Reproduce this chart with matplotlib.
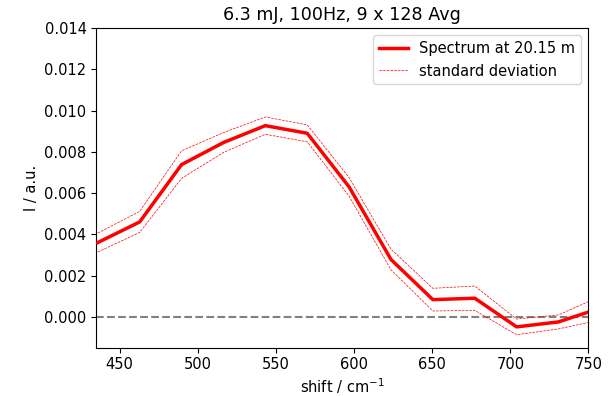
import matplotlib
matplotlib.use("Agg")
import matplotlib.pyplot as plt
import numpy as np

shift = [436.0, 462.8, 489.6, 516.4, 543.2, 570.0, 596.8, 623.6, 650.4, 677.2, 704.0, 730.8, 757.6]
spectrum = [0.00360, 0.00460, 0.00738, 0.00845, 0.00927, 0.00890, 0.00630, 0.00278, 0.00083, 0.00090, -0.00049, -0.00025, 0.00042]
std_dev = [0.00046, 0.00051, 0.00067, 0.00048, 0.00042, 0.00041, 0.00045, 0.00050, 0.00055, 0.00059, 0.00038, 0.00034, 0.00057]

title = "6.3 mJ, 100Hz, 9 x 128 Avg"
xlabel = "shift / cm$^{-1}$"
ylabel = "I / a.u."
label_main = "Spectrum at 20.15 m"
label_std = "standard deviation"

plt.rcParams["font.size"] = 10.5

x = np.array(shift)
y = np.array(spectrum)
s = np.array(std_dev)

fig = plt.figure(figsize=(6.13, 3.96), dpi=100)
ax = fig.add_axes([0.157, 0.122, 0.803, 0.807])

ax.axhline(0, color="gray", linestyle="--", linewidth=1.5, zorder=1)
ax.plot(x, y, color="red", linewidth=2.5, label=label_main, zorder=3)
ax.plot(x, y + s, color="red", linestyle="--", linewidth=0.5, label=label_std, zorder=2)
ax.plot(x, y - s, color="red", linestyle="--", linewidth=0.5, zorder=2)

ax.set_xlim(435, 750)
ax.set_ylim(-0.0015, 0.014)
ax.set_yticks(np.arange(0, 0.0141, 0.002))
ax.set_title(title, fontsize=12.6)
ax.set_xlabel(xlabel, labelpad=2.5)
ax.set_ylabel(ylabel)
ax.legend(loc="upper right")

fig.savefig("out.png", dpi=100)
